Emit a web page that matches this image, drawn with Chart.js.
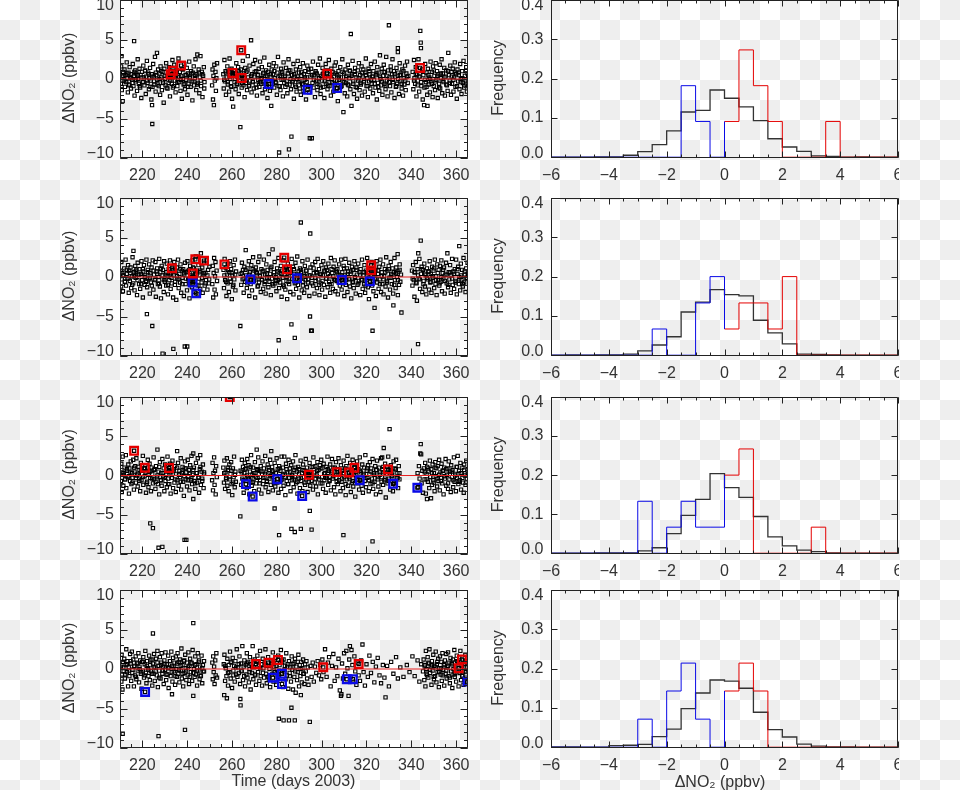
<!DOCTYPE html>
<html><head><meta charset="utf-8">
<script src="https://cdn.jsdelivr.net/npm/chart.js@4.4.1/dist/chart.umd.min.js"></script>
<style>
html,body{margin:0;padding:0;}
body{width:960px;height:790px;overflow:hidden;position:relative;
background:repeating-conic-gradient(#eeeeee 0 25%, #ffffff 0 50%) 0 0/40px 40px;}
canvas{position:absolute;}
</style></head><body>
<script>
// ---------- axis settings ----------
const dayMin = 210, dayMax = 365.3;
const dnoMin = -10, dnoMax = 10;
const refLevel = 0;
const dayTicks = [220, 240, 260, 280, 300, 320, 340, 360];
const dnoTicks = [-10, -5, 0, 5, 10];
const histXTicks = [-6, -4, -2, 0, 2, 4, 6];
const histYTicks = [0, 0.1, 0.2, 0.3, 0.4];
const histEdges = [-6,-5.5,-5,-4.5,-4,-3.5,-3,-2.5,-2,-1.5,-1,-0.5,0,0.5,1,1.5,2,2.5,3,3.5,4,4.5,5,5.5];
const histEnd = 6;

// ---------- scatter data: flat pairs [day, dNO2, day, dNO2, ...] ----------
const scat1 = [210.4,-.6,210.5,1.6,210.7,2.9,210.8,-1.4,211.0,.3,211.2,-2.8,211.4,.9,211.7,-.2,212.0,1.2,212.2,-1.0,212.5,.5,212.8,-.4,213.0,2.1,213.3,.1,213.5,-1.7,213.8,.8,214.1,-.7,214.3,1.5,214.6,.2,214.9,-1.2,215.1,.6,215.4,-.1,215.7,1.9,216.0,-.9,216.2,.4,216.3,4.8,216.5,-2.1,216.8,1.1,217.0,-.3,217.3,.7,217.6,-1.5,217.9,2.5,218.1,0,218.4,-.6,218.7,1.3,219.0,-1.1,219.2,.5,219.5,-2.4,219.8,.9,220.1,-.4,220.4,1.7,220.6,.2,220.9,-.8,221.2,1.0,221.5,-1.9,221.7,.3,222.0,2.3,222.3,-.5,222.6,.8,222.9,-1.3,223.1,.1,223.4,1.4,223.7,-.2,224.0,-2.6,224.2,.6,224.3,-3.3,224.4,-5.7,224.5,-1.0,224.8,1.9,225.1,.3,225.3,-.7,225.6,2.8,225.9,-1.6,226.2,.5,226.5,3.3,226.7,-.1,227.0,1.2,227.3,-.9,227.6,.7,227.9,-2.0,228.1,1.6,228.4,.2,228.7,-1.4,229.0,.9,229.2,-.3,229.5,-3.0,229.8,1.3,230.1,0,230.3,-.8,230.6,2.0,230.9,.4,231.2,-1.2,231.4,.8,231.7,-.5,232.0,1.5,232.3,-2.2,232.5,.1,232.8,1.0,233.1,-.6,233.4,2.4,233.6,-1.1,233.9,.3,234.2,1.8,234.5,-.2,234.8,-1.7,235.0,.6,235.3,1.1,235.6,-.9,235.9,.2,236.1,2.6,236.4,-.4,236.7,.9,237.0,-1.5,237.3,.4,237.6,-2.5,237.8,1.3,238.1,0,238.4,-.7,238.7,1.9,239.0,-1.3,239.2,.5,239.5,-.1,239.8,1.4,240.1,-2.0,240.3,.7,240.6,-.6,240.9,2.2,241.2,.3,241.5,-1.0,241.7,1.0,242.0,-.3,242.3,-2.7,242.6,.8,242.9,1.6,243.1,-.8,243.4,.1,243.7,2.5,244.0,-1.4,244.2,.6,244.5,3.1,244.8,-.5,245.1,1.2,245.4,-1.8,245.6,.2,245.9,2.9,246.2,-.9,246.5,.9,246.8,-2.3,247.1,.4,247.4,1.5,247.7,-.4,
251.1,-.8,251.3,1.2,251.5,-2.6,251.7,.4,251.9,-3.3,252.1,1.8,252.3,-.2,252.6,.9,252.8,-1.5,253.0,.1,253.3,2.0,
256.1,.6,256.3,-1.2,256.6,2.4,256.8,-.3,257.1,1.0,257.3,-2.0,257.6,.2,257.9,1.6,258.1,-.7,258.4,.9,258.7,-1.6,258.9,2.6,259.2,0,259.5,-.9,259.8,1.3,260.0,-2.5,260.3,.5,260.5,-3.5,260.8,1.1,261.1,-.4,261.3,.7,261.6,-1.3,261.9,2.0,262.1,.3,262.4,-.6,262.7,1.5,263.0,-1.9,263.2,.8,263.5,-.2,263.7,-6.1,264.0,1.2,264.3,-1.1,264.5,.4,264.8,2.3,265.1,-.8,265.3,.1,265.6,-2.3,265.9,1.4,266.2,-.5,266.4,.9,266.7,-1.4,267.0,2.9,267.2,.2,267.5,-.9,267.8,1.7,268.0,-.2,268.5,4.9,268.7,-1.7,268.9,.6,269.2,-.4,269.5,1.9,269.7,-1.2,270.0,.3,270.3,2.4,270.6,-.7,270.8,1.0,271.1,-2.1,271.4,.5,271.7,-.1,271.9,1.3,272.2,-1.0,272.5,2.2,272.8,0,273.0,-.6,273.3,1.5,273.6,-1.8,273.9,.7,274.1,-.3,274.4,2.7,274.7,-1.3,275.0,.4,275.2,1.1,275.5,-.8,275.8,-2.4,276.1,.9,276.3,-.2,276.6,1.8,276.9,-1.5,277.2,.3,277.5,-3.4,277.7,1.2,278.0,-.6,278.3,.6,278.6,2.0,278.8,-1.1,279.1,.1,279.4,-.4,279.7,1.6,280.0,-2.0,280.2,.8,280.5,2.8,280.8,-.9,281.0,-9.3,281.3,.4,281.6,-1.4,281.9,1.3,282.1,-.1,282.4,.9,282.7,-2.2,283.0,2.1,283.3,-.5,283.5,.2,283.8,-1.0,284.1,1.4,284.4,-.3,284.7,-1.8,284.9,.7,285.2,2.5,285.4,-8.9,285.7,-.7,286.0,1.1,286.3,-1.3,286.5,-7.3,286.8,.5,287.1,-.2,287.4,1.9,287.6,-2.5,287.9,.3,288.2,-.8,288.5,1.2,288.8,-1.6,289.0,0,289.3,2.3,289.6,-.4,289.9,.8,290.2,-1.2,290.4,1.5,290.7,-2.0,291.0,.4,291.3,-.6,291.6,2.0,291.9,-1.5,292.1,.6,292.4,-.1,292.7,1.0,293.0,-2.6,293.3,.2,293.6,1.7,293.8,-.9,294.1,.9,294.4,-1.7,294.7,-7.5,295.0,.3,295.3,1.3,295.6,-7.5,295.9,-.5,296.1,2.2,296.4,-1.1,296.7,.5,297.0,-2.3,297.3,1.0,297.5,-.3,297.8,.7,298.1,-1.4,298.4,1.8,298.7,.1,299.0,-.8,299.2,2.6,299.5,-1.9,299.8,.4,300.1,-.2,300.4,1.4,300.7,-1.0,300.9,.8,301.2,-2.4,301.5,.2,301.8,1.9,302.1,-.6,302.4,1.1,302.6,-1.3,302.9,0,303.2,2.4,303.5,-.9,303.8,.6,304.1,-2.1,304.3,1.3,304.6,-.4,304.9,.9,305.2,-1.6,305.5,.3,305.8,1.7,306.0,-.7,306.3,2.1,306.6,-1.2,306.9,.5,307.2,-2.8,307.5,1.0,307.7,-.1,308.0,-1.5,308.3,1.5,308.6,.2,308.9,-.9,309.2,2.5,309.4,-.3,309.7,-4.2,310.0,.7,310.3,-1.8,310.6,1.2,310.9,-.5,311.1,.4,311.4,-2.2,311.7,1.8,312.0,-.8,312.3,.1,312.6,1.0,312.8,-1.3,313.0,5.7,313.3,-3.4,313.5,.6,313.8,2.3,314.1,-.6,314.4,-1.9,314.7,.9,314.9,1.4,315.2,-1.0,315.5,.2,315.8,-2.5,316.1,1.1,316.3,-.2,316.6,2.0,316.9,-1.4,317.2,.5,317.5,-.7,317.8,1.6,318.0,-2.1,318.3,.3,318.6,1.2,318.9,-.4,319.2,-1.6,319.5,.8,319.7,2.6,320.0,-.9,320.3,.1,320.6,-2.3,320.9,1.3,321.2,-.3,321.4,.6,321.7,-1.2,322.0,1.9,322.3,-.6,322.6,.3,322.9,-1.8,323.1,1.0,323.4,-.1,323.7,2.2,324.0,-1.1,324.3,.5,324.6,-2.6,324.8,1.5,325.1,-.5,325.4,.8,325.7,-1.5,326.0,3.0,326.3,0,326.5,-.8,326.8,1.3,327.1,-2.0,327.4,.4,327.7,1.8,328.0,-.6,328.2,.9,328.5,-1.3,328.8,2.8,329.1,-.2,329.4,-2.2,329.7,1.1,330.0,6.8,330.2,.2,330.5,-.9,330.8,1.6,331.1,-1.7,331.4,.6,331.6,2.5,331.9,-.4,332.2,1.0,332.5,-2.4,332.8,.3,333.1,-1.0,333.4,1.4,333.7,-.6,334.0,3.9,334.0,3.4,334.2,.8,334.5,-1.9,334.8,2.0,335.1,-.3,335.4,.5,335.7,-1.2,336.0,1.2,336.3,-2.1,336.6,.1,336.9,-.7,337.2,1.7,337.5,-1.4,337.8,.7,338.1,2.2,338.4,-.5,338.7,.4,
340.6,.9,340.9,-1.3,341.2,2.4,341.4,.1,341.7,-.6,342.0,1.5,342.3,-2.2,342.6,.6,342.9,-.2,343.2,2.5,343.5,-1.6,343.7,.3,344.0,6.1,344.2,4.6,344.3,3.9,344.5,-.9,344.8,1.2,345.1,-2.6,345.4,.5,345.7,-3.3,345.9,-1.1,346.2,1.9,346.5,-.4,346.8,.8,347.1,-2.0,347.2,-3.4,347.4,1.3,347.7,-.7,348.0,.2,348.3,-1.7,348.6,2.2,348.9,-.3,349.2,.9,349.5,-2.3,349.7,1.6,350.0,-.9,350.3,.4,350.6,-1.4,350.9,2.0,351.2,-.1,351.5,1.0,351.8,-2.4,352.1,.6,352.4,-.6,352.7,1.8,352.9,-1.2,353.2,.1,353.5,2.5,353.8,-1.8,354.1,.7,354.4,-.4,354.7,1.4,355.0,-2.1,355.3,.3,355.6,1.1,355.9,-.8,356.2,-1.5,356.5,3.3,356.8,.5,357.1,-.2,357.4,1.7,357.7,-2.0,357.9,.9,358.2,-.6,358.5,1.3,358.8,-1.6,359.1,.2,359.4,2.1,359.7,-1.0,360.0,.6,360.3,-2.5,360.6,1.2,360.9,-.3,361.2,.8,361.5,-1.3,361.8,1.9,362.1,0,362.4,-1.9,362.7,1.0,363.0,-.5,363.3,2.3,363.6,-1.1,363.9,.4,364.2,-.2,364.5,1.5,364.8,-1.6,365.1,.7,365.4,-.8];
const core1 = [211.5,.4,212.4,-.3,213.2,.7,214.0,-.8,214.8,.1,215.6,-.5,216.4,.9,217.2,-.1,218.0,.5,218.8,-.9,219.6,.2,220.4,-.4,221.2,1.1,222.0,-.2,222.8,.6,223.6,-1.0,224.4,.3,225.2,-.3,226.0,.8,226.8,-.7,227.6,0,228.4,1.0,229.2,-.5,230.0,.4,230.8,-1.1,231.6,.2,232.4,-.2,233.2,.6,234.0,-.9,234.8,.9,235.6,-.4,236.4,.3,237.2,-.1,238.0,1.2,238.8,-.6,239.6,.5,240.4,-1.0,241.2,.1,242.0,.7,242.8,-.3,243.6,.4,244.4,-.7,245.2,.8,246.0,-.2,246.8,.6,247.6,-1.2,
256.5,-.1,257.3,.8,258.1,-.4,258.9,.3,259.7,-1.0,260.5,.6,261.3,0,262.1,-.7,262.9,1.0,263.7,.2,264.5,-.5,265.3,.7,266.1,-.2,266.9,1.1,267.7,-.8,268.5,.4,269.3,-.3,270.1,.9,270.9,-1.1,271.7,.5,272.5,-.4,273.3,.1,274.1,.8,274.9,-.6,275.7,.3,276.5,-1.0,277.3,.6,278.1,-.2,278.9,1.0,279.7,-.5,280.5,.2,281.3,-.9,282.1,.7,282.9,-.1,283.7,.4,284.5,-.7,285.3,1.1,286.1,0,286.9,-.4,287.7,.6,288.5,-1.0,289.3,.3,290.1,-.2,290.9,.9,291.7,-.7,292.5,.2,293.3,-.4,294.1,1.2,294.9,-.9,295.7,.5,296.5,-.1,297.3,.8,298.1,-.6,298.9,.1,299.7,-1.1,300.5,.6,301.3,-.3,302.1,.4,302.9,-.8,303.7,1.0,304.5,0,305.3,-.5,306.1,.7,306.9,-.2,307.7,.3,308.5,-1.0,309.3,.9,310.1,-.4,310.9,.2,311.7,-.7,312.5,1.1,313.3,.4,314.1,-.3,314.9,.6,315.7,-1.1,316.5,.1,317.3,-.5,318.1,.8,318.9,-.2,319.7,.5,320.5,-.9,321.3,1.0,322.1,-.1,322.9,.3,323.7,-.6,324.5,.7,325.3,-1.0,326.1,.2,326.9,-.3,327.7,.9,328.5,-.8,329.3,.4,330.1,-.4,330.9,1.1,331.7,-.1,332.5,.6,333.3,-.9,334.1,0,334.9,.5,335.7,-.6,336.5,1.0,337.3,-.2,338.1,.3,
341.2,-.2,342.0,.6,342.8,-.8,343.6,.3,344.4,-.4,345.2,.9,346.0,-.1,346.8,-1.0,347.6,.5,348.4,0,349.2,-.6,350.0,1.1,350.8,-.3,351.6,.4,352.4,-1.1,353.2,.7,354.0,-.2,354.8,.2,355.6,-.7,356.4,1.0,357.2,-.5,358.0,.3,358.8,-.1,359.6,.8,360.4,-.9,361.2,.5,362.0,-.4,362.8,.1,363.6,-.8,364.4,1.0,365.2,-.2];

const scat2 = [210.3,.8,210.5,-1.2,210.6,1.9,210.8,-.3,211.0,.5,211.3,-1.8,211.6,.2,211.9,1.1,212.2,-.6,212.5,2.2,212.7,-1.1,213.0,.4,213.3,-.2,213.6,1.5,213.9,-2.0,214.1,.8,214.4,-.5,214.7,1.2,215.0,-1.4,215.3,.1,215.6,2.5,215.9,-.8,216.0,3.3,216.2,.6,216.5,-1.7,216.8,1.4,217.0,-.1,217.3,.9,217.6,-2.3,217.9,1.8,218.2,.3,218.5,-.9,218.7,1.0,219.0,-1.5,219.3,.4,219.6,2.0,219.9,-.4,220.2,-2.6,220.4,.7,220.7,1.5,221.0,-1.0,221.3,.2,221.6,-.6,221.8,2.2,222.0,-4.7,222.1,-1.3,222.4,.9,222.7,-.2,223.0,1.6,223.3,-2.1,223.5,.5,223.8,-.7,224.1,1.2,224.4,-6.2,224.6,2.1,224.9,-1.6,225.2,.3,225.5,-.4,225.8,1.9,226.0,-2.5,226.3,.7,226.6,1.1,226.9,-.9,227.2,0,227.5,2.3,227.8,-1.2,228.0,.6,228.3,-2.7,228.6,1.4,228.9,-.3,229.0,-9.7,229.2,.9,229.5,-1.9,229.7,2.0,230.0,-.6,230.3,.3,230.6,-1.1,230.9,1.7,231.2,.1,231.4,-2.2,231.7,1.0,232.0,-.4,232.3,2.1,232.6,-1.5,232.8,.5,233.1,-.8,233.4,1.3,233.7,-2.6,233.8,-9.1,234.0,.2,234.2,1.9,234.5,-1.0,234.8,.7,235.1,-2.9,235.4,1.2,235.6,-.2,235.9,2.2,236.2,-1.4,236.5,.4,236.8,-.7,237.0,1.6,237.3,-2.0,237.6,.8,237.9,-.1,238.2,1.0,238.5,-2.4,238.7,.3,238.9,-8.8,239.0,1.8,239.3,-.9,239.6,.6,239.9,-1.7,240.0,-8.8,240.1,2.0,240.4,-.3,240.7,.9,241.0,-2.7,241.3,1.4,241.6,-.5,241.8,.2,242.1,-1.3,242.4,2.1,242.7,-.6,243.0,1.1,243.3,-1.9,243.5,.4,243.8,2.6,244.1,-1.0,244.4,.8,244.7,-2.2,245.0,1.5,245.2,-.2,245.5,.6,245.8,-1.5,246.1,3.0,246.4,-.7,246.7,1.2,246.9,-2.0,247.2,.3,247.5,1.8,247.8,-1.1,248.1,.5,248.4,-.4,248.7,2.1,249.0,-1.6,249.3,.9,249.6,-.8,249.9,1.3,
251.2,-.9,251.4,1.4,251.6,-2.6,251.8,.5,252.0,2.4,252.2,-1.6,252.4,.1,252.6,1.9,252.8,-2.2,253.1,.8,253.3,-.5,
256.2,.9,256.4,-1.4,256.7,2.3,256.9,-.4,257.2,1.2,257.5,-2.4,257.7,.3,258.0,-.8,258.3,1.7,258.6,-1.9,258.8,.6,259.1,2.0,259.4,-.6,259.6,1.0,259.9,-2.8,260.2,.2,260.4,-1.2,260.7,1.5,261.0,-.3,261.3,2.2,261.5,-1.7,261.8,.7,
263.7,-6.2,263.8,.4,264.1,-1.0,264.4,1.8,264.7,-.3,264.9,.9,265.2,-2.0,265.5,1.3,265.8,-.6,266.1,3.4,266.3,.2,266.6,-1.4,266.9,1.1,267.2,-.2,267.5,2.0,267.7,-2.4,268.0,.6,268.3,-.9,268.6,1.5,268.9,-1.7,269.2,0,269.4,2.5,269.7,-.5,270.0,.8,270.3,-2.6,270.6,1.2,270.8,-.3,271.1,.5,271.4,-1.2,271.7,1.9,272.0,-.7,272.2,2.6,272.5,.1,272.8,-1.9,273.1,1.0,273.4,-.4,273.6,.7,273.9,-1.5,274.2,2.2,274.5,-.9,274.8,.3,275.0,-2.1,275.3,1.6,275.6,-.1,275.9,.9,276.2,-1.3,276.4,2.9,276.7,-.6,277.0,.4,277.3,-2.3,277.6,1.3,277.8,-.2,278.1,3.5,278.4,-1.1,278.7,.6,279.0,1.9,279.3,-.8,279.5,0,279.8,-1.8,280.1,1.1,280.4,-.4,280.7,2.4,280.8,-8.0,281.0,-1.4,281.2,.5,281.5,-.7,281.8,1.4,282.1,-2.5,282.4,.8,282.6,-.1,282.9,2.1,283.2,-1.2,283.5,.3,283.8,-1.6,284.1,1.2,284.3,-.5,284.6,-2.8,284.9,1.7,285.2,.2,285.5,-.9,285.7,1.0,286.0,-1.9,286.3,.6,286.5,-6.0,286.6,2.3,286.9,-.3,287.2,1.3,287.4,-2.2,287.7,.4,288.0,-7.7,288.0,-.8,288.3,1.8,288.6,-1.5,288.9,.1,289.1,2.6,289.4,-1.0,289.7,.7,290.0,-2.6,290.3,1.1,290.6,-.2,290.7,6.9,290.8,.9,291.1,-1.7,291.4,2.0,291.7,-.6,292.0,.3,292.2,-2.0,292.5,1.4,292.8,-.4,293.1,.8,293.4,-1.3,293.7,2.2,293.9,-.7,294.2,.2,294.5,-2.4,294.8,-5.0,294.9,5.5,295.0,1.2,295.3,-6.8,295.6,-6.8,295.6,-.1,295.9,1.6,296.2,-1.1,296.5,.5,296.8,-2.1,297.1,1.9,297.3,-.5,297.6,.6,297.9,-1.4,298.2,2.3,298.5,-.3,298.8,1.0,299.0,-2.3,299.3,.4,299.6,-.8,299.9,1.5,300.2,-1.6,300.5,.2,300.7,2.0,301.0,-1.0,301.3,.7,301.6,-2.5,301.9,1.2,302.1,-.2,302.4,.9,302.7,-1.3,303.0,1.7,303.3,-.6,303.6,.1,303.8,-2.0,304.1,2.4,304.4,-.9,304.7,.5,305.0,-1.5,305.3,1.3,305.5,-.3,305.8,2.1,306.1,-1.8,306.4,.8,306.7,-.5,307.0,1.0,307.2,-2.2,307.5,.3,307.8,1.6,308.1,-1.1,308.4,-.1,308.7,2.2,308.9,-1.6,309.2,.6,309.5,-.8,309.8,1.4,310.1,-2.4,310.4,.2,310.6,2.3,310.9,-.4,311.2,1.1,311.5,-1.9,311.8,.7,312.1,-.2,312.3,1.8,312.6,-1.2,312.9,.4,313.2,-2.7,313.5,1.3,313.8,-.7,314.0,.9,314.3,-1.4,314.6,2.0,314.9,-.1,315.2,-2.1,315.5,1.2,315.7,.3,316.0,-1.0,316.3,1.7,316.6,-.5,316.9,.6,317.2,-2.3,317.4,1.0,317.7,-.3,318.0,2.2,318.3,-1.5,318.6,.2,318.9,-.9,319.1,1.5,319.4,-2.0,319.7,.8,320.0,-.4,320.3,2.4,320.6,-1.3,320.8,.5,321.1,-2.8,321.4,1.1,321.7,-.6,322.0,.3,322.3,1.9,322.5,-1.1,322.7,-6.8,322.8,.7,323.1,-1.8,323.4,1.4,323.6,-3.9,323.7,-.2,324.0,.9,324.2,-2.4,324.5,2.0,324.8,-.7,325.1,.4,325.4,-1.5,325.7,1.3,325.9,-.3,326.2,2.2,326.5,-1.9,326.8,.6,327.1,-.9,327.4,1.6,327.6,-2.2,327.9,.1,328.2,1.0,328.5,-1.2,328.8,2.5,329.1,-.5,329.3,.8,329.6,-2.6,329.9,1.4,330.2,-.1,330.5,-1.6,330.8,1.9,331.0,.4,331.3,-.9,331.6,1.1,331.9,-2.1,332.0,-3.6,332.2,.6,332.5,2.4,332.7,-.4,333.0,-1.4,333.3,1.2,333.6,0,333.9,2.9,334.0,-2.3,334.2,.7,334.5,-1.0,334.8,1.6,335.1,-.6,335.4,.3,335.6,-4.5,
340.3,.8,340.5,-1.1,340.8,1.5,341.1,-.4,341.4,-2.5,341.7,.6,342.0,1.9,342.3,-.8,342.5,-3.0,342.8,1.0,343.0,-8.5,343.1,3.0,343.3,-.2,343.6,2.3,343.9,-1.5,344.2,4.6,344.3,.4,344.6,1.3,344.9,-1.9,345.2,.9,345.5,-.5,345.8,1.7,346.1,-1.2,346.4,.2,346.7,-2.2,347.0,1.1,347.3,-.3,347.6,.7,347.9,-1.6,348.2,2.0,348.5,-.7,348.7,.4,349.0,-2.0,349.3,1.3,349.6,-.1,349.9,.8,350.2,-1.4,350.5,2.2,350.8,-.9,351.1,.1,351.3,-2.3,351.6,1.6,351.9,-.4,352.2,.9,352.5,-1.1,352.8,1.4,353.1,-.6,353.4,2.1,353.7,-1.8,354.0,.5,354.3,-.2,354.6,1.2,354.9,-2.1,355.2,.3,355.5,1.8,355.8,-.8,356.1,3.0,356.4,-1.3,356.7,.6,357.0,-.3,357.3,1.5,357.6,-2.0,357.9,.2,358.2,2.3,358.5,-1.0,358.8,.7,359.1,-1.5,359.4,1.0,359.7,-.5,360.0,2.2,360.3,-2.2,360.6,.4,360.9,1.3,361.2,-.9,361.4,3.9,361.5,0,361.8,-1.7,362.1,1.7,362.4,-.4,362.7,.9,363.0,-1.2,363.3,2.4,363.6,-.7,363.9,.3,364.2,-1.9,364.5,1.1,364.8,-.2,365.1,1.8];
const core2 = [211.4,.2,212.2,-.6,213.0,.9,213.8,-.2,214.6,.5,215.4,-1.0,216.2,.1,217.0,.7,217.8,-.4,218.6,.3,219.4,-.9,220.2,1.0,221.0,0,221.8,-.5,222.6,.6,223.4,-.1,224.2,-1.1,225.0,.8,225.8,-.3,226.6,.4,227.4,-.8,228.2,1.1,229.0,.2,229.8,-.4,230.6,.6,231.4,-1.0,232.2,.3,233.0,-.1,233.8,.9,234.6,-.6,235.4,.1,236.2,-.3,237.0,1.0,237.8,-.9,238.6,.5,239.4,-.2,240.2,.7,241.0,-.7,241.8,0,242.6,1.2,243.4,-.5,244.2,.3,245.0,-1.1,245.8,.8,246.6,-.1,247.4,.5,248.2,-.8,249.0,.2,249.8,-.3,
256.6,.2,257.4,-.6,258.2,.9,259.0,-.2,259.8,.5,260.6,-1.0,261.4,.3,
264.4,.5,265.2,-.2,266.0,.9,266.8,-.8,267.6,.3,268.4,-.4,269.2,1.0,270.0,-.1,270.8,.6,271.6,-1.1,272.4,.2,273.2,-.3,274.0,.8,274.8,-.6,275.6,.4,276.4,-.1,277.2,1.1,278.0,-.9,278.8,.2,279.6,-.5,280.4,.7,281.2,-.2,282.0,.4,282.8,-1.0,283.6,.9,284.4,0,285.2,-.6,286.0,.5,286.8,-.2,287.6,1.0,288.4,-.7,289.2,.3,290.0,-.4,290.8,.6,291.6,-1.1,292.4,.1,293.2,.8,294.0,-.3,294.8,.2,295.6,-.8,296.4,1.1,297.2,-.1,298.0,.5,298.8,-1.0,299.6,.3,300.4,-.5,301.2,.8,302.0,-.2,302.8,.4,303.6,-.9,304.4,1.0,305.2,.1,306.0,-.4,306.8,.6,307.6,-.7,308.4,.2,309.2,-.2,310.0,1.1,310.8,-1.0,311.6,.4,312.4,-.3,313.2,.7,314.0,-.6,314.8,0,315.6,.9,316.4,-.8,317.2,.3,318.0,-.4,318.8,.6,319.6,-1.1,320.4,.2,321.2,-.1,322.0,1.0,322.8,-.5,323.6,.4,324.4,-.2,325.2,.8,326.0,-.9,326.8,.1,327.6,-.3,328.4,.6,329.2,-.7,330.0,1.0,330.8,-.1,331.6,.3,332.4,-1.0,333.2,.5,334.0,-.4,334.8,.9,
340.6,-.2,341.4,.6,342.2,-.7,343.0,.2,343.8,-.3,344.6,1.0,345.4,-.9,346.2,.4,347.0,-.1,347.8,.7,348.6,-.6,349.4,.1,350.2,1.1,351.0,-.4,351.8,.5,352.6,-.8,353.4,0,354.2,.9,355.0,-.5,355.8,.3,356.6,-1.0,357.4,.6,358.2,-.2,359.0,.4,359.8,-.7,360.6,1.0,361.4,-.3,362.2,.2,363.0,-.9,363.8,.7,364.6,-.1,365.2,.4];

const scat3 = [210.4,-.7,210.6,1.5,210.8,-2.1,211.0,.4,211.2,2.4,211.5,-1.3,211.7,.1,212.0,1.0,212.3,-.5,212.6,2.6,212.8,-1.6,213.1,.6,213.4,-.2,213.7,1.4,214.0,-2.3,214.2,.9,214.5,-.7,214.8,1.8,215.1,-1.1,215.4,.3,215.6,-.3,215.9,2.0,216.2,-1.8,216.5,.5,216.8,1.2,217.1,-.9,217.3,2.2,217.6,0,217.9,-1.4,218.2,1.1,218.5,-.4,218.7,.7,219.0,-2.0,219.3,1.6,219.6,-.6,219.9,.2,220.2,2.5,220.4,-1.2,220.7,.9,221.0,-.1,221.3,1.3,221.6,-2.2,221.8,.4,222.1,-.8,222.4,2.0,222.7,-1.5,223.0,.6,223.2,1.5,223.5,-6.1,223.5,-.3,223.8,-2.0,224.1,1.0,224.4,.2,224.7,-6.7,224.7,-1.0,225.0,2.3,225.2,-.5,225.5,.8,225.8,-1.7,226.1,1.2,226.4,-.2,226.7,3.3,226.9,-1.1,227.2,-9.2,227.2,.5,227.5,-2.4,227.8,1.7,228.1,-.6,228.4,.3,228.6,-1.3,228.9,-9.1,228.9,2.1,229.2,-.1,229.5,.9,229.8,-2.0,230.1,1.4,230.3,-.7,230.6,.1,230.9,-1.5,231.2,2.4,231.5,-.4,231.7,.7,232.0,-1.1,232.3,1.5,232.6,-2.3,232.9,.4,233.2,-.3,233.4,1.9,233.7,-1.6,234.0,.8,234.3,-.9,234.6,1.2,234.9,-2.1,235.1,.2,235.5,3.1,235.6,-.6,235.9,1.6,236.2,-1.3,236.5,.6,236.8,-.2,237.1,2.2,237.3,-1.8,237.6,.3,237.9,1.1,238.2,-.8,238.5,-2.6,238.8,-8.2,238.8,.9,239.0,1.8,239.3,-.5,239.6,-8.2,239.6,.4,239.9,-1.4,240.2,2.0,240.5,-.1,240.7,.7,241.0,-1.9,241.3,1.3,241.6,-.6,241.9,2.5,242.2,-1.1,242.4,.1,242.7,2.8,242.7,-3.0,243.0,1.0,243.3,-.7,243.6,-1.7,243.9,1.6,244.1,.3,244.4,-.9,244.7,2.2,245.0,-.3,245.3,-2.2,245.6,.8,245.8,2.6,246.1,-1.2,246.4,.5,246.7,-.4,247.0,1.4,247.3,-1.6,247.5,.2,
251.1,-.6,251.3,1.6,251.5,-1.9,251.7,.3,252.0,2.3,252.2,-1.2,252.4,.6,252.7,-2.4,252.9,1.2,253.2,-.2,
256.1,1.0,256.4,-.9,256.6,1.9,256.9,-1.7,257.1,.4,257.4,-.3,257.7,2.2,257.9,-1.3,258.2,.7,258.5,-2.0,258.8,1.4,259.0,-.5,259.3,.2,259.6,1.7,259.8,-1.1,260.1,-2.5,260.4,.9,260.7,-.2,260.9,2.4,261.2,-1.5,261.5,.5,261.7,-.8,
263.7,-5.2,263.8,.6,264.1,-1.2,264.4,2.0,264.6,-.4,264.9,1.1,265.2,-2.2,265.5,.3,265.7,1.6,266.0,-.7,266.3,.9,266.6,-1.6,266.8,2.1,267.1,-.2,267.4,1.3,267.7,-2.4,268.0,.5,268.2,-.9,268.5,2.6,268.8,-1.3,269.1,.1,269.4,1.0,269.6,-.5,269.9,-2.0,270.2,1.7,270.5,.3,270.8,-1.0,271.0,3.3,271.1,.8,271.4,-.3,271.7,2.3,272.0,-1.8,272.2,.6,272.5,-.6,272.8,1.2,273.1,-2.3,273.4,.2,273.6,1.8,273.9,-1.1,274.2,.9,274.5,-.2,274.8,2.5,275.0,-1.5,275.3,.4,275.6,-.8,275.9,1.4,276.2,-2.1,276.5,.7,276.7,-.4,277.0,2.0,277.3,-1.2,277.5,3.1,277.6,.1,277.9,1.1,278.2,-1.9,278.4,.5,278.7,-.6,279.0,-4.2,279.0,1.6,279.3,-1.4,279.6,.3,279.9,2.2,280.2,-.9,280.4,.8,280.7,-2.2,281.0,-7.6,281.0,1.2,281.3,-.1,281.6,.6,281.9,-1.7,282.1,2.4,282.4,-.5,282.7,1.0,283.0,-1.3,283.3,2.4,283.5,.2,283.8,-2.5,284.1,1.5,284.4,-.7,284.7,.4,285.0,-1.1,285.2,2.0,285.5,-.3,285.8,.9,286.1,-2.0,286.4,1.3,286.5,-6.8,286.7,-.6,286.9,.1,287.2,1.8,287.5,-1.5,287.8,.7,288.0,-7.2,288.1,-.2,288.3,2.6,288.6,-1.0,288.9,.5,289.2,-2.3,289.5,1.1,289.8,-.4,290.0,.8,290.3,-1.6,290.6,1.9,290.7,-6.8,290.9,-.7,291.2,.3,291.4,-2.0,291.7,1.4,292.0,-.2,292.3,.6,292.6,-1.2,292.9,2.1,293.1,-.5,293.4,1.0,293.7,-2.1,294.0,.2,294.3,-.8,294.6,1.6,294.7,-4.5,294.9,-1.3,295.2,.5,295.5,-6.9,295.5,1.1,295.8,-.3,296.1,-1.8,296.3,2.3,296.6,.4,296.9,-.9,297.2,1.2,297.5,-1.4,297.8,0,298.1,1.7,298.3,-2.4,298.6,.7,298.9,-.5,299.2,1.3,299.5,-1.0,299.8,2.0,300.1,-.2,300.3,.9,300.6,-1.7,300.9,1.5,301.2,-.6,301.5,.3,301.8,-2.2,302.1,1.1,302.4,-.1,302.6,2.4,302.9,-1.2,303.2,.6,303.5,-.7,303.8,1.4,304.1,-1.9,304.4,.2,304.6,2.1,304.9,-.4,305.2,1.0,305.5,-1.5,305.8,.5,306.1,-2.4,306.4,1.7,306.6,-.3,306.9,.8,307.2,-1.1,307.5,2.2,307.8,-.6,308.1,.1,308.4,-2.0,308.6,1.3,308.9,-.8,309.2,.6,309.5,-1.6,309.7,-7.6,309.8,1.9,310.1,-.2,310.4,.9,310.7,-2.5,311.0,1.2,311.2,-.5,311.5,2.5,311.8,-1.3,312.1,.3,312.4,-.4,312.7,1.6,313.0,-2.1,313.2,.7,313.5,-.9,313.8,2.0,314.1,-1.4,314.4,.1,314.7,1.1,315.0,-2.7,315.2,.5,315.5,-.2,315.8,1.8,316.1,-1.0,316.4,.8,316.7,-1.8,317.0,2.3,317.2,-.6,317.5,.4,317.8,-1.3,318.1,1.4,318.4,-2.2,318.7,0,319.0,1.0,319.2,-.7,319.5,2.6,319.8,-1.5,320.1,.6,320.4,-.3,320.7,1.3,321.0,-2.0,321.3,.2,321.5,1.7,321.8,-1.1,322.1,.9,322.4,-.4,322.7,-8.4,322.7,2.1,323.0,-1.7,323.3,.3,323.6,-.8,323.9,1.2,324.2,-2.4,324.5,.7,324.7,1.9,325.0,-.5,325.3,-1.4,325.6,1.0,325.9,.1,326.2,-2.1,326.5,2.2,326.8,-.2,327.0,2.3,327.1,.8,327.4,-1.2,327.7,3.5,327.7,.4,328.0,-.6,328.3,1.5,328.6,-2.8,328.9,.2,329.2,1.1,329.4,-1.0,329.7,2.4,330.0,-.4,330.3,5.9,330.3,.7,330.6,-1.8,330.9,1.3,331.2,-.1,331.5,.5,331.8,-2.0,332.1,1.8,332.3,-.7,332.6,.9,332.9,-1.3,333.2,2.0,333.5,-.3,333.8,.3,334.1,-1.6,334.4,1.2,334.7,-.5,
342.8,.3,343.1,-1.5,343.4,1.2,343.7,-.4,344.0,2.8,344.2,4.0,344.4,2.7,344.6,-1.0,344.9,.6,345.2,-2.2,
345.6,.9,345.9,-.5,346.2,1.6,346.5,-2.3,346.8,.2,347.0,-3.0,347.1,1.1,347.4,-.8,347.7,.5,348.0,-1.6,348.3,1.9,348.5,-.2,348.8,-2.9,348.9,.8,349.2,-1.2,349.5,1.4,349.8,-.6,350.1,.3,350.4,-2.0,350.7,1.7,350.9,-.1,351.2,.9,351.5,-1.4,351.8,1.2,352.1,-.7,352.4,2.0,352.7,-1.9,353.0,.4,353.3,-.3,353.5,1.5,353.8,-1.0,354.1,.6,354.4,-2.4,354.7,1.0,355.0,-.4,355.3,2.1,355.6,-1.3,355.9,.1,356.1,.9,356.4,-1.7,356.7,1.8,357.0,-.5,357.3,.5,357.6,-2.1,357.8,1.3,358.1,-.2,358.4,.7,358.7,-1.5,359.0,2.3,359.3,-.8,359.6,.2,359.9,-2.0,360.2,1.1,360.4,-.3,360.7,2.5,361.0,-1.1,361.3,.6,361.6,-.6,361.9,1.6,362.2,-1.8,362.5,.3,362.8,1.0,363.1,-.9,363.4,-2.2,363.6,1.4,363.9,0,364.2,-1.2,364.5,1.9,364.8,-.4,365.1,.8];
const core3 = [211.5,.3,212.3,-.5,213.1,.8,213.9,-.1,214.7,.4,215.5,-.9,216.3,1.0,217.1,-.3,217.9,.2,218.7,-.7,219.5,.6,220.3,-.2,221.1,.9,221.9,-1.0,222.7,.1,223.5,.5,224.3,-.4,225.1,.7,225.9,-.8,226.7,0,227.5,1.1,228.3,-.6,229.1,.3,229.9,-.2,230.7,.8,231.5,-1.1,232.3,.4,233.1,-.3,233.9,.6,234.7,-.5,235.5,1.0,236.3,.1,237.1,-.8,237.9,.5,238.7,-.1,239.5,.9,240.3,-.6,241.1,.2,241.9,-.4,242.7,.7,243.5,-1.0,244.3,.3,245.1,-.2,245.9,1.1,246.7,-.7,247.5,.4,
256.5,.3,257.3,-.5,258.1,1.0,258.9,-.2,259.7,.6,260.5,-.9,261.3,.1,
264.3,.4,265.1,-.6,265.9,.8,266.7,0,267.5,-.4,268.3,1.1,269.1,-.8,269.9,.3,270.7,-.2,271.5,.7,272.3,-1.0,273.1,.5,273.9,-.3,274.7,.2,275.5,-.7,276.3,1.0,277.1,-.1,277.9,.6,278.7,-.9,279.5,.3,280.3,-.4,281.1,.9,281.9,-.6,282.7,.1,283.5,-.2,284.3,.8,285.1,-1.1,285.9,.4,286.7,0,287.5,-.5,288.3,1.0,289.1,-.8,289.9,.2,290.7,-.3,291.5,.7,292.3,-.9,293.1,.5,293.9,-.1,294.7,.3,295.5,-.7,296.3,1.1,297.1,-.4,297.9,.6,298.7,-.2,299.5,.9,300.3,-1.0,301.1,.2,301.9,-.3,302.7,.8,303.5,-.6,304.3,.4,305.1,-.1,305.9,1.0,306.7,-.8,307.5,.1,308.3,.6,309.1,-.4,309.9,.3,310.7,-1.1,311.5,.7,312.3,-.2,313.1,.4,313.9,-.7,314.7,1.0,315.5,0,316.3,-.5,317.1,.6,317.9,-.9,318.7,.2,319.5,-.3,320.3,.9,321.1,-.6,321.9,.5,322.7,-1.0,323.5,.1,324.3,.7,325.1,-.2,325.9,.4,326.7,-.8,327.5,1.1,328.3,-.4,329.1,.2,329.9,-.7,330.7,.6,331.5,0,332.3,-1.0,333.1,.8,333.9,-.3,334.7,.3,
346.0,.4,346.8,-.5,347.6,.9,348.4,-.2,349.2,.3,350.0,-.9,350.8,1.0,351.6,-.4,352.4,.1,353.2,-.7,354.0,.6,354.8,-.1,355.6,.8,356.4,-1.0,357.2,.2,358.0,.5,358.8,-.6,359.6,0,360.4,1.1,361.2,-.8,362.0,.3,362.8,-.3,363.6,.7,364.4,-.9,365.2,.2];

const scat4 = [210.4,.3,210.6,-1.6,210.7,1.8,210.9,-.7,211.1,-2.6,211.2,-8.2,211.3,.9,211.6,-.3,211.9,1.3,212.2,-1.2,212.5,.5,212.8,2.5,213.1,-.4,213.3,1.0,213.6,-2.2,213.9,.2,214.2,-.9,214.5,1.9,214.8,.7,215.0,-1.5,215.3,2.2,215.6,-.1,215.9,1.2,216.2,-2.2,216.5,.4,216.7,-.8,217.0,1.6,217.3,-1.3,217.6,.8,217.9,-.2,218.2,2.0,218.5,-1.7,218.7,.3,219.0,1.1,219.3,-.6,219.6,-2.5,219.9,.9,220.2,-.2,220.4,1.5,220.7,-1.1,221.0,.6,221.3,2.3,221.6,-.5,221.8,-1.8,222.1,1.0,222.4,.1,222.7,-.9,223.0,1.7,223.3,-1.4,223.5,.5,223.8,-.3,224.1,1.2,224.4,-2.1,224.7,4.5,224.7,.7,225.0,-.6,225.2,1.9,225.5,-1.5,225.8,.2,226.1,1.3,226.4,-.8,226.7,2.3,226.9,-2.3,227.2,-8.5,227.2,.4,227.5,-.2,227.8,1.5,228.1,-1.2,228.4,.8,228.6,2.0,228.9,-.6,229.2,.3,229.5,-1.9,229.8,1.1,230.1,-.1,230.3,2.1,230.6,-1.4,230.9,.6,231.2,-.7,231.5,1.7,231.7,-2.4,232.0,.2,232.3,1.0,232.6,-.9,232.9,2.2,233.2,-3.2,233.2,.4,233.4,-1.6,233.7,1.4,234.0,-.3,234.3,.8,234.6,-2.0,234.9,1.6,235.1,0,235.4,-1.0,235.7,2.0,236.0,-.6,236.2,.9,236.5,-1.7,236.8,1.2,237.1,-.2,237.4,2.6,237.6,-1.2,237.9,.5,238.2,-2.2,238.5,1.0,238.8,-.5,239.0,-7.7,239.1,1.8,239.3,.1,239.6,-1.4,239.9,.8,240.2,-.8,240.5,2.1,240.8,-1.9,241.0,.4,241.3,1.3,241.6,-.4,241.9,.7,242.2,-1.5,242.4,2.4,242.7,5.8,242.7,-3.4,243.0,0,243.3,-1.0,243.6,1.6,243.9,-.7,244.1,.6,244.4,-2.1,244.7,2.0,245.0,-.2,245.3,1.1,245.5,-1.3,245.8,.3,246.1,-.9,246.4,1.7,246.7,-1.8,247.0,.5,247.2,-.3,247.5,1.0,
251.2,.8,251.4,-1.3,251.6,1.6,251.8,-.4,252.0,.3,252.2,-1.9,252.5,1.1,252.7,-.8,253.0,2.0,253.3,-1.1,
256.3,.6,256.5,-3.3,256.6,1.8,256.9,-1.5,257.2,.1,257.5,-.9,257.7,-3.7,257.9,1.3,258.2,-2.1,258.5,.5,258.8,-.4,259.1,2.2,259.4,-1.2,259.7,.8,260.0,-2.4,260.3,1.4,260.6,-.2,260.9,.4,261.2,-1.6,261.5,1.0,261.8,-.7,262.1,2.5,262.4,-1.0,262.7,.2,263.0,-.5,263.3,1.6,263.6,-1.9,263.7,-3.8,263.8,-4.6,264.0,.7,264.3,-.3,264.6,2.9,264.9,-1.4,265.2,.3,265.5,1.1,265.8,-2.2,266.1,.5,266.4,-.7,266.6,2.0,266.9,-1.1,267.2,.9,267.5,-1.7,267.8,0,268.0,1.5,268.3,-2.6,268.6,.6,268.9,-.5,269.2,2.9,269.5,-1.3,269.8,.2,270.1,1.2,270.4,-.8,270.7,-2.0,271.0,.9,271.3,1.7,271.6,-.4,271.9,.4,272.2,-1.5,272.5,2.3,272.8,-.9,273.1,.6,273.4,-2.1,273.7,1.3,274.0,.1,274.3,-1.1,274.6,.8,274.9,2.5,275.2,-.6,275.5,-1.8,275.8,.4,276.1,1.5,276.4,-1.2,276.7,0,277.0,-2.3,277.3,1.1,277.6,.6,277.9,-.7,278.2,2.1,278.5,-1.6,278.8,.3,279.1,-.4,279.4,1.4,279.7,-2.0,280.0,.8,280.3,-1.0,280.6,1.7,280.9,-6.3,280.9,-.2,281.2,.5,281.5,-1.5,281.8,2.4,282.1,-.6,282.4,.9,282.7,-2.3,283.0,-6.5,283.0,1.2,283.3,-.3,283.6,.4,283.9,-1.3,284.2,2.0,284.5,-.8,284.8,.6,285.1,-2.5,285.4,-6.5,285.4,1.0,285.7,-.5,286.0,.2,286.3,-1.6,286.5,-4.9,286.6,1.6,286.9,-.1,287.2,-2.6,287.5,.7,287.8,-1.0,288.0,-6.5,288.1,1.3,288.4,-3.0,288.7,.3,289.0,-1.4,289.3,-.4,289.6,1.8,289.9,-2.2,290.2,.5,290.5,-.9,290.7,-3.3,290.8,.9,291.1,-1.7,291.4,.1,291.7,1.2,292.0,-.6,292.3,-1.9,292.6,.6,292.9,-.3,293.2,1.0,293.5,-1.2,293.8,.2,294.1,-2.0,294.7,-6.7,295.0,.4,295.5,-1.0,296.0,.8,296.5,-1.6,297.0,.3,297.6,-.5,298.2,1.0,298.8,-.8,299.3,.5,299.8,-1.3,
300.3,1.2,300.8,-.4,301.5,2.5,302.2,-1.0,302.8,.8,303.3,1.5,304.0,-2.2,304.6,.4,305.2,1.9,305.8,-1.5,306.4,.2,307.0,-.9,307.5,1.3,308.1,-2.7,308.6,-3.4,308.8,-3.2,309.1,.7,309.5,-1.2,310.0,2.0,310.5,-.6,311.0,2.3,311.5,.1,312.0,-3.4,312.3,1.2,312.6,2.9,312.9,-1.0,313.3,2.4,313.7,.5,314.1,-1.6,314.6,1.6,315.0,-.3,315.5,-2.0,316.0,.8,316.5,-.8,317.1,-1.5,317.6,1.1,318.2,3.1,318.7,-.4,319.3,-2.1,320.0,.6,320.6,-1.0,321.3,1.7,322.0,-.5,322.8,.9,323.5,-1.7,324.2,.3,325.0,1.4,325.8,-.8,326.5,-1.8,327.3,.5,328.0,-1.1,328.5,-3.6,329.2,.4,330.0,-2.2,331.0,.9,332.0,-.6,333.2,1.5,334.0,-1.2,335.1,.2,336.5,-1.0,338.0,.5,339.2,-.4,340.5,1.6,341.5,-.9,342.8,1.1,343.6,-1.6,344.4,.6,
345.2,-.3,345.5,1.2,345.8,-1.4,346.0,.5,346.3,-2.2,346.5,2.3,346.7,0,347.0,-.8,347.3,1.5,347.6,-1.1,347.9,.7,348.1,2.5,348.4,-.5,348.7,.3,349.0,-2.0,349.2,1.0,349.5,-.2,349.8,1.8,350.1,-1.3,350.3,.4,350.6,-.9,350.9,2.2,351.2,-1.7,351.4,.6,351.7,-.4,352.0,1.3,352.3,-2.3,352.5,.1,352.8,1.6,353.1,-.7,353.4,.9,353.6,-1.5,353.9,2.0,354.2,-.1,354.5,.5,354.7,-2.1,355.0,1.1,355.3,-.6,355.6,1.9,355.8,-1.2,356.1,.2,356.4,2.1,356.7,-.9,357.0,.8,357.2,-1.8,357.5,1.4,357.8,-.3,358.1,.6,358.3,-2.4,358.6,1.2,358.9,-.7,359.2,2.4,359.4,-1.0,359.7,.3,360.0,-1.6,360.3,1.7,360.5,-.2,360.8,.9,361.1,-2.2,361.4,1.5,361.6,-.5,361.9,2.3,362.2,-1.4,362.5,.4,362.7,-.8,363.0,1.1,363.3,-2.0,363.6,.7,363.8,-.3,364.1,1.8,364.4,-1.1,364.7,.2,364.9,-1.7,365.2,1.0];
const core4 = [211.5,.2,212.3,-.7,213.1,.6,213.9,-.2,214.7,1.0,215.5,-.5,216.3,.3,217.1,-1.0,217.9,.7,218.7,0,219.5,-.4,220.3,.9,221.1,-.8,221.9,.4,222.7,-.1,223.5,1.1,224.3,-.6,225.1,.2,225.9,-.3,226.7,.8,227.5,-1.1,228.3,.5,229.1,-.2,229.9,.6,230.7,-.7,231.5,.1,232.3,1.0,233.1,-.4,233.9,.3,234.7,-.9,235.5,.7,236.3,-.1,237.1,.4,237.9,-.6,238.7,1.1,239.5,-.3,240.3,.2,241.1,-1.0,241.9,.8,242.7,-.5,243.5,.5,244.3,-.2,245.1,.9,245.9,-.8,246.7,.1,247.5,-.3,
257.0,.4,258.2,-.5,259.4,.9,260.6,-.8,261.8,.2,263.0,.6,264.2,-.2,265.4,-.9,266.6,.7,267.8,-.4,269.0,.3,270.2,-.7,271.4,1.0,272.6,.1,273.8,-.5,275.0,.5,276.2,-1.0,277.4,.8,278.6,-.2,279.8,.4,281.0,-.8,282.2,1.1,283.4,-.1,284.6,.3,285.8,-.9,287.0,.6,288.2,-.3,289.4,.9,290.6,0,291.8,-.6,
346.0,.3,346.8,-.6,347.6,.8,348.4,-.1,349.2,.5,350.0,-1.0,350.8,.2,351.6,.9,352.4,-.4,353.2,.1,354.0,-.8,354.8,.6,355.6,-.2,356.4,.4,357.2,-1.1,358.0,.8,358.8,0,359.6,-.5,360.4,1.0,361.2,-.3,362.0,.5,362.8,-.9,363.6,.2,364.4,-.4,365.2,.7];

// highlighted points (red: positive, blue: negative)
const red1 = [232.6,.6,233.6,1.05,237.3,1.7,260.2,.76,264.1,3.64,264.3,.13,302.5,.68,343.9,1.4];
const blue1 = [276.3,-.64,293.7,-1.36,306.9,-1.14];
const red2 = [233.2,1.1,242.5,.45,243.6,2.24,247.5,2.07,256.6,1.6,283.3,2.45,284.5,.97,322.1,1.48,322.1,.84];
const blue2 = [242.4,-.7,244.0,-2.07,268.2,-.3,289.0,-.17,309.0,-.38,321.5,-.55];
const red3 = [216.3,3.15,221.1,.98,231.9,.95,259.0,10,294.3,.1,306.7,.43,312.2,.38,314.6,.99,329.6,.77];
const blue3 = [266.2,-1.1,269.2,-2.68,280.2,-.47,291.3,-2.6,317.0,-.6,331.9,-1.06,342.7,-1.55];
const red4 = [270.7,.63,276.3,.8,280.5,1.14,300.7,.21,316.5,.63,361.1,.1,362.6,1.22];
const blue4 = [221.2,-2.9,278.2,-1.1,282.2,-.6,282.3,-1.9,311.2,-1.3,313.9,-1.3,365.1,-1.6];

// ---------- histogram frequencies (bins of 0.5 from -6 to 6) ----------
const allHist1 = [0,0,0,.001,.001,.005,.014,.032,.067,.115,.119,.171,.150,.128,.093,.047,.026,.015,.0035,.002,0,.001,0,0];
const allHist2 = [0,.001,0,.001,.001,.003,.011,.026,.047,.110,.135,.167,.154,.151,.089,.057,.029,.003,.002,.001,0,0,0,0];
const allHist3 = [0,0,0,.001,.001,.001,.006,.014,.050,.097,.138,.204,.168,.143,.094,.042,.019,.008,.004,.001,0,0,0,0];
const allHist4 = [.001,.001,0,0,.004,.005,.007,.027,.046,.098,.138,.171,.168,.150,.089,.045,.026,.008,.003,.001,.001,0,0,0];
const negHist1 = [0,0,0,0,0,0,0,0,0,.182,.091,0];
const posHist1 = [.091,.273,.182,.091,0,0,0,.091,0,0,0,0];
const negHist2 = [0,0,0,0,0,0,0,.0667,0,0,.133,.2];
const posHist2 = [.0667,.133,.133,.0667,.2,0,0,0,0,0,0,0];
const negHist3 = [0,0,0,0,0,0,.133,0,.0667,.133,.0667,.0667];
const posHist3 = [.2,.267,0,0,0,0,.0667,0,0,0,0,0];
const negHist4 = [0,0,0,0,0,0,.0714,0,.143,.214,.0714,0];
const posHist4 = [.143,.214,.143,0,0,0,0,0,0,0,0,0];

// ---------- layout ----------
const rowTop = [0, 198, 397, 590];
const rowH = [158, 158, 157, 158];
const RED = '#e40000', BLUE = '#0a0ae6', INK = '#000000', TXT = '#333333';
const FONT = '16px "Liberation Sans", Arial, Helvetica, sans-serif';

function pairs(a){const o=[];for(let i=0;i<a.length;i+=2)o.push({x:a[i],y:a[i+1]});return o;}
function fmtSigned(v){return v<0?'\u2212'+Math.abs(v):String(v);}

const axesDeco = {
  id:'axesDeco',
  afterDraw(chart, args, o){
    const ctx = chart.ctx, a = chart.chartArea, xs = chart.scales.x, ys = chart.scales.y;
    ctx.save();
    const L = Math.round(a.left)+0.5, R = Math.round(a.right)-0.5, T = Math.round(a.top)+0.5, B = Math.round(a.bottom)-0.5;
    ctx.strokeStyle = '#222'; ctx.lineWidth = 1;
    ctx.beginPath();
    ctx.rect(L, T, R-L, B-T);
    const xt = (v,len)=>{const p=Math.round(xs.getPixelForValue(v))+0.5; ctx.moveTo(p,B); ctx.lineTo(p,B-len); ctx.moveTo(p,T); ctx.lineTo(p,T+len);};
    const yt = (v,len)=>{const p=Math.round(ys.getPixelForValue(v))+0.5; ctx.moveTo(L,p); ctx.lineTo(L+len,p); ctx.moveTo(R,p); ctx.lineTo(R-len,p);};
    o.xMajor.forEach(v=>xt(v,o.majLen));
    o.yMajor.forEach(v=>yt(v,o.majLen));
    if(o.xMinorStep){for(let v=xs.min;v<=xs.max+1e-9;v+=o.xMinorStep){const r=Math.round(v/o.xMinorStep)*o.xMinorStep; xt(r,o.minLen);} }
    if(o.yMinorStep){for(let v=ys.min;v<=ys.max+1e-9;v+=o.yMinorStep){const r=Math.round(v/o.yMinorStep)*o.yMinorStep; yt(r,o.minLen);} }
    ctx.stroke();
    ctx.fillStyle = TXT; ctx.font = FONT;
    ctx.textAlign='center'; ctx.textBaseline='middle';
    o.xMajor.forEach(v=>{ctx.fillText(o.xFmt(v), xs.getPixelForValue(v), a.bottom+17.5);});
    ctx.textAlign='right';
    o.yMajor.forEach(v=>{let p=ys.getPixelForValue(v); p=Math.max(a.top+6, Math.min(a.bottom-4, p)); ctx.fillText(o.yFmt(v), a.left-o.yGap, p);});
    ctx.save(); ctx.translate(o.yTitleX, (a.top+a.bottom)/2 - 1); ctx.rotate(-Math.PI/2);
    ctx.textAlign='center'; ctx.fillText(o.yTitle, 0, 0); ctx.restore();
    if(o.xTitle){ctx.textAlign='center'; ctx.fillText(o.xTitle, o.xTitleX, o.xTitleY);}
    ctx.restore();
  }
};

function makeCanvas(left, top, w, h){
  const c=document.createElement('canvas'); c.width=w; c.height=h;
  c.style.left=left+'px'; c.style.top=top+'px'; c.style.width=w+'px'; c.style.height=h+'px';
  document.body.appendChild(c); return c;
}

const scats=[scat1.concat(core1),scat2.concat(core2),scat3.concat(core3),scat4.concat(core4)];
const reds=[red1,red2,red3,red4], blues=[blue1,blue2,blue3,blue4];
const alls=[allHist1,allHist2,allHist3,allHist4], negs=[negHist1,negHist2,negHist3,negHist4], poss=[posHist1,posHist2,posHist3,posHist4];

for(let r=0;r<4;r++){
  const padT=12, padB=(r===3?42:44);
  const cTop=rowTop[r]-padT, cH=padT+rowH[r]+padB;
  const last = r===3;
  // ---- left: time series ----
  const cl=makeCanvas(0,cTop,480,cH);
  new Chart(cl,{
    type:'scatter',
    data:{datasets:[
      {data:pairs(reds[r]),pointStyle:'rect',pointRadius:5.4,borderColor:RED,borderWidth:2.3,backgroundColor:'rgba(0,0,0,0)',clip:0},
      {data:pairs(blues[r]),pointStyle:'rect',pointRadius:5.4,borderColor:BLUE,borderWidth:2.3,backgroundColor:'rgba(0,0,0,0)',clip:0},
      {data:[{x:dayMin,y:refLevel},{x:dayMax,y:refLevel}],showLine:true,pointRadius:0,borderColor:'#e62020',borderWidth:1,clip:0},
      {data:pairs(scats[r]).concat(pairs(reds[r]),pairs(blues[r])),pointStyle:'rect',pointRadius:2.3,borderColor:INK,borderWidth:1.1,backgroundColor:'rgba(0,0,0,0)',clip:0}
    ]},
    options:{responsive:false,animation:false,devicePixelRatio:1,events:[],
      layout:{padding:{left:120,right:12,top:padT,bottom:padB}},
      scales:{x:{type:'linear',display:false,min:dayMin,max:dayMax},y:{type:'linear',display:false,min:dnoMin,max:dnoMax}},
      plugins:{legend:{display:false},tooltip:{enabled:false},
        axesDeco:{xMajor:dayTicks,yMajor:dnoTicks,xMinorStep:5,yMinorStep:1,majLen:7,minLen:3.5,
          xFmt:v=>String(v),yFmt:fmtSigned,yGap:6,yTitle:'\u0394NO\u2082 (ppbv)',yTitleX:70,
          xTitle:last?'Time (days 2003)':null,xTitleX:293.5,xTitleY:782-cTop}}},
    plugins:[axesDeco]
  });
  // ---- right: histograms ----
  const cr=makeCanvas(480,cTop,419,cH);
  const negPts=histEdges.slice(0,12).map((e,i)=>({x:e,y:negs[r][i]})); negPts.push({x:0,y:poss[r][0]});
  const posPts=histEdges.slice(12).map((e,i)=>({x:e,y:poss[r][i]})); posPts.push({x:histEnd,y:poss[r][11]});
  const allPts=histEdges.map((e,i)=>({x:e,y:alls[r][i]})); allPts.push({x:histEnd,y:alls[r][23]});
  new Chart(cr,{
    type:'scatter',
    data:{datasets:[
      {data:negPts,showLine:true,stepped:'before',pointRadius:0,borderColor:BLUE,borderWidth:1,clip:false},
      {data:posPts,showLine:true,stepped:'before',pointRadius:0,borderColor:RED,borderWidth:1,clip:false},
      {data:allPts,showLine:true,stepped:'before',pointRadius:0,borderColor:'#333',borderWidth:1.3,clip:false}
    ]},
    options:{responsive:false,animation:false,devicePixelRatio:1,events:[],
      layout:{padding:{left:71,right:1,top:padT,bottom:padB}},
      scales:{x:{type:'linear',display:false,min:-6,max:6},y:{type:'linear',display:false,min:-0.002,max:0.4}},
      plugins:{legend:{display:false},tooltip:{enabled:false},
        axesDeco:{xMajor:histXTicks,yMajor:histYTicks,xMinorStep:0.5,yMinorStep:0,majLen:6,minLen:3,
          xFmt:fmtSigned,yFmt:v=>v.toFixed(1),yGap:7.5,yTitle:'Frequency',yTitleX:18.5,
          xTitle:last?'\u0394NO\u2082 (ppbv)':null,xTitleX:240,xTitleY:783-cTop}}},
    plugins:[axesDeco]
  });
}
</script>
</body></html>
